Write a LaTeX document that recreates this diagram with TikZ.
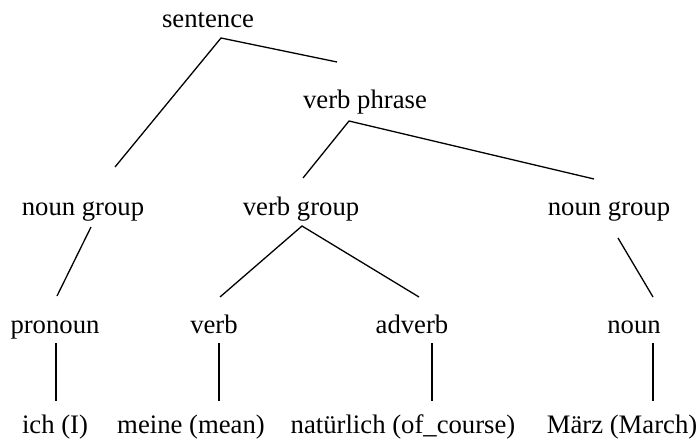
\documentclass[tikz,border=0pt]{standalone}
\usepackage{fontspec}
\setmainfont{Liberation Serif}
\begin{document}
\begin{tikzpicture}[x=1pt,y=-1pt,
  lbl/.style={inner sep=0pt,anchor=base,font=\fontsize{26.7}{30}\selectfont},
  edge/.style={draw=black,line width=1.3pt}]
\useasboundingbox (0,0) rectangle (700,441);
% nodes
\node[lbl] (sent) at (208,28) {sentence};
\node[lbl] (vp) at (365,108) {verb phrase};
\node[lbl] (ngl) at (83,215) {noun group};
\node[lbl] (vg) at (301,215) {verb group};
\node[lbl] (ngr) at (609,215) {noun group};
\node[lbl] (pron) at (55,333) {pronoun};
\node[lbl] (verb) at (214,333) {verb};
\node[lbl] (adv) at (412,333) {adverb};
\node[lbl] (noun) at (634,333) {noun};
\node[lbl] (ich) at (55,433) {ich (I)};
\node[lbl] (meine) at (191,433) {meine (mean)};
\node[lbl] (nat) at (403,433) {natürlich (of\_course)};
\node[lbl] (maerz) at (622,433) {März (March)};
% connector end points
\coordinate (sent-b) at (221,38);
\coordinate (vp-t) at (337,62);
\coordinate (vp-b) at (349,121);
\coordinate (ngl-t) at (115,167);
\coordinate (ngl-b) at (91,227);
\coordinate (vg-t) at (303,178);
\coordinate (vg-b) at (302,226);
\coordinate (ngr-t) at (594,179);
\coordinate (ngr-b) at (618,238);
\coordinate (pron-t) at (57,296);
\coordinate (pron-b) at (56,343);
\coordinate (verb-t) at (220,297);
\coordinate (verb-b) at (219,343);
\coordinate (adv-t) at (419,297);
\coordinate (adv-b) at (432,343);
\coordinate (noun-t) at (653,297);
\coordinate (noun-b) at (653,343);
\coordinate (ich-t) at (56,401);
\coordinate (meine-t) at (219,401);
\coordinate (nat-t) at (432,401);
\coordinate (maerz-t) at (653,401);
% connectors
\draw[edge] (ngl-t) -- (sent-b) -- (vp-t);
\draw[edge] (vg-t) -- (vp-b) -- (ngr-t);
\draw[edge] (ngl-b) -- (pron-t);
\draw[edge] (verb-t) -- (vg-b) -- (adv-t);
\draw[edge] (ngr-b) -- (noun-t);
\draw[edge] (pron-b) -- (ich-t);
\draw[edge] (verb-b) -- (meine-t);
\draw[edge] (adv-b) -- (nat-t);
\draw[edge] (noun-b) -- (maerz-t);
\end{tikzpicture}
\end{document}
